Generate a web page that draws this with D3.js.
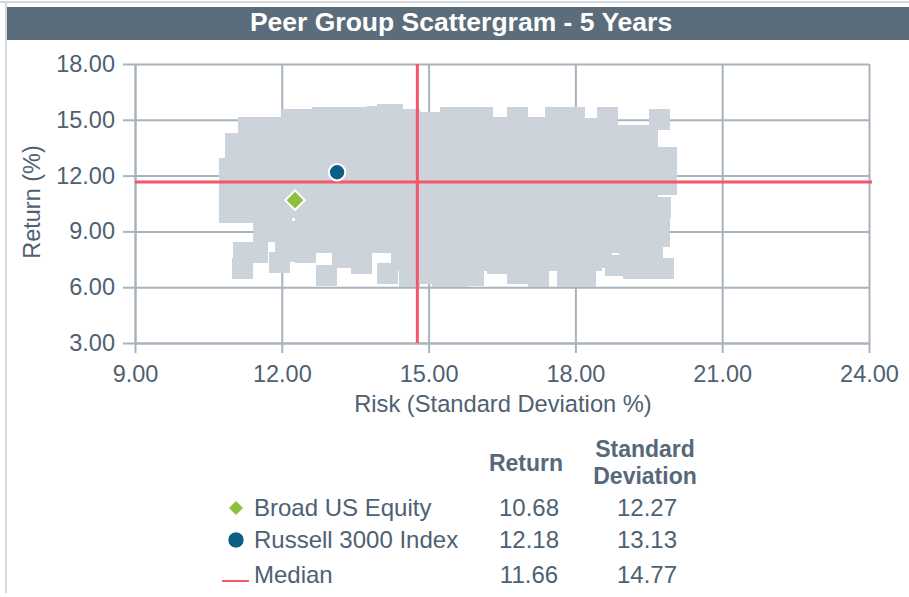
<!DOCTYPE html>
<html>
<head>
<meta charset="utf-8">
<script src="https://cdn.jsdelivr.net/npm/d3@7"></script>
<style>
  body { margin: 0; background: #fff; }
  svg { font-family: "Liberation Sans", Arial, sans-serif; }
</style>
</head>
<body>
<svg width="909" height="597"></svg>
<script>
var chartTitle = "Peer Group Scattergram - 5 Years";
var xTicks = [9, 12, 15, 18, 21, 24];
var yTicks = [3, 6, 9, 12, 15, 18];

// peer universe, [risk, return]
var peerFunds = [
  [11.31,14.56],[11.72,14.56],[11.95,14.56],[12.21,15.04],[12.43,15.04],[12.84,15.15],[13.23,15.15],[13.62,15.15],
  [13.95,15.17],[14.15,15.26],[14.27,15.26],[14.60,15.00],[14.93,14.83],[15.10,14.85],[15.44,15.10],[15.81,15.10],
  [16.11,15.10],[16.46,14.60],[16.81,15.10],[17.22,14.60],[17.60,15.10],[17.99,15.10],[18.30,14.55],[18.65,15.10],
  [19.71,15.04],
  [11.33,14.18],[11.72,14.18],[12.11,14.18],[12.49,14.18],[12.88,14.18],[13.27,14.18],[13.66,14.18],[14.05,14.18],
  [14.44,14.18],[14.82,14.18],[15.21,14.18],[15.60,14.18],[15.99,14.18],[16.38,14.18],[16.77,14.18],[17.15,14.18],
  [17.54,14.18],[17.93,14.18],[18.32,14.18],[18.71,14.18],[19.10,14.18],[19.48,14.18],
  [11.06,13.75],
  [11.06,13.22],[11.33,13.22],[11.72,13.22],[12.11,13.22],[12.49,13.22],[12.88,13.22],[13.27,13.22],[13.66,13.22],
  [14.05,13.22],[14.44,13.22],[14.82,13.22],[15.21,13.22],[15.60,13.22],[15.99,13.22],[16.38,13.22],[16.77,13.22],
  [17.15,13.22],[17.54,13.22],[17.93,13.22],[18.32,13.22],[18.71,13.22],[19.10,13.22],[19.48,13.22],[19.87,13.00],
  [10.94,12.40],[11.33,12.25],[11.72,12.25],[12.11,12.25],[12.49,12.25],[12.88,12.25],[13.27,12.25],[13.66,12.25],
  [14.05,12.25],[14.44,12.25],[14.82,12.25],[15.21,12.25],[15.60,12.25],[15.99,12.25],[16.38,12.25],[16.77,12.25],
  [17.15,12.25],[17.54,12.25],[17.93,12.25],[18.32,12.25],[18.71,12.25],[19.10,12.25],[19.48,12.25],[19.87,12.25],
  [10.94,11.28],[11.33,11.28],[11.72,11.28],[12.11,11.28],[12.49,11.28],[12.88,11.28],[13.27,11.28],[13.66,11.28],
  [14.05,11.28],[14.44,11.28],[14.82,11.28],[15.21,11.28],[15.60,11.28],[15.99,11.28],[16.38,11.28],[16.77,11.28],
  [17.15,11.28],[17.54,11.28],[17.93,11.28],[18.32,11.28],[18.71,11.28],[19.10,11.28],[19.48,11.28],[19.87,11.50],
  [10.94,10.31],[11.33,10.31],[10.94,9.99],[11.33,9.99],
  [11.72,10.31],[12.11,10.31],[12.49,10.31],[12.88,10.31],[13.27,10.31],[13.66,10.31],
  [14.05,10.31],[14.44,10.31],[14.82,10.31],[15.21,10.31],[15.60,10.31],[15.99,10.31],[16.38,10.31],[16.77,10.31],
  [17.15,10.31],[17.54,10.31],[17.93,10.31],[18.32,10.31],[18.71,10.31],[19.10,10.31],[19.48,10.31],[19.73,10.31],
  [11.62,9.34],[12.00,9.34],[11.62,8.97],[12.00,8.97],[12.30,8.97],[12.49,9.34],[12.88,9.34],[13.27,9.34],
  [13.66,9.34],[14.05,9.34],[14.44,9.34],[14.82,9.34],[15.21,9.34],[15.60,9.34],[15.99,9.34],[16.38,9.34],
  [16.77,9.34],[17.15,9.34],[17.54,9.34],[17.93,9.34],[18.32,9.34],[18.71,9.34],[19.10,9.34],[19.48,9.34],
  [19.71,9.60],[19.71,8.70],
  [12.49,8.38],[12.88,8.38],[13.27,8.38],[13.66,8.38],[14.05,8.38],[14.44,8.38],[14.82,8.38],[15.21,8.38],
  [15.60,8.38],[15.99,8.38],[16.38,8.38],[16.77,8.38],[17.15,8.38],[17.54,8.38],[17.93,8.38],[18.32,8.38],
  [18.71,8.38],[19.10,8.38],[19.48,8.38],[19.57,8.10],[12.49,7.89],
  [14.44,7.41],[14.82,7.41],[15.21,7.41],[15.60,7.41],[15.99,7.41],[16.38,7.41],[16.77,7.41],[17.15,7.41],
  [17.54,7.41],[17.93,7.41],[18.32,7.41],[19.10,7.41],[19.48,7.41],
  [12.92,6.65],[13.25,7.60],[13.62,7.30],[14.17,6.76],[14.60,6.55],[14.93,6.76],[15.29,6.55],[15.60,6.55],
  [15.91,6.65],[16.40,7.30],[16.81,6.71],[17.24,6.55],[17.83,6.60],[18.20,6.60],[18.54,7.62],[18.81,7.19],
  [19.18,7.03],[19.40,7.03],[19.81,7.03],
  [11.22,7.84],[11.50,7.84],[11.19,6.98],[12.07,7.90],[11.96,7.35]
];

var seriesNames = ["Broad US Equity", "Russell 3000 Index", "Median"];
var seriesReturn = [10.68, 12.18, 11.66];
var seriesStdDev = [12.27, 13.13, 14.77];

var textColor = "#4e6172",
    gridColor = "#a9b3be",
    medianColor = "#f4566a";

var svg = d3.select("svg"),
    margin = {top: 64, right: 40, bottom: 254, left: 135},
    width = +svg.attr("width") - margin.left - margin.right,
    height = +svg.attr("height") - margin.top - margin.bottom;

// panel frame + title bar
svg.append("rect").attr("x", 0).attr("y", 1).attr("width", 909).attr("height", 2).attr("fill", "#d3d8de");
svg.append("rect").attr("x", 5).attr("y", 1).attr("width", 2).attr("height", 592).attr("fill", "#d3d8de");
svg.append("rect").attr("x", 7).attr("y", 7).attr("width", 902).attr("height", 33).attr("fill", "#5b6c7b");
svg.append("text")
    .attr("x", 461).attr("y", 31)
    .attr("text-anchor", "middle")
    .attr("fill", "#fff")
    .attr("font-size", 26.5)
    .attr("font-weight", "bold")
    .text(chartTitle);

var x = d3.scaleLinear().domain([9, 24]).range([0, width]),
    y = d3.scaleLinear().domain([3, 18]).range([height, 0]);

var g = svg.append("g")
    .attr("transform", "translate(" + margin.left + "," + margin.top + ")");

// grid
g.append("g")
    .attr("class", "grid")
    .call(d3.axisLeft(y).tickValues(yTicks).tickSize(-width).tickFormat(""))
    .call(function(s) { s.select(".domain").remove(); });
g.append("g")
    .attr("class", "grid")
    .attr("transform", "translate(0," + height + ")")
    .call(d3.axisBottom(x).tickValues(xTicks).tickSize(-height).tickFormat(""))
    .call(function(s) { s.select(".domain").remove(); });
g.selectAll(".grid line").attr("stroke", gridColor).attr("stroke-width", 2);

// peer cloud
var sq = 21;
g.selectAll(".peer")
    .data(peerFunds)
    .enter().append("rect")
    .attr("class", "peer")
    .attr("x", function(d) { return x(d[0]) - sq / 2; })
    .attr("y", function(d) { return y(d[1]) - sq / 2; })
    .attr("width", sq)
    .attr("height", sq)
    .attr("fill", "#cdd3db")
    .attr("shape-rendering", "crispEdges");

// axes
var fmt = d3.format(".2f");
var xAxis = g.append("g")
    .attr("transform", "translate(0," + height + ")")
    .call(d3.axisBottom(x).tickValues(xTicks).tickSize(10).tickSizeOuter(0).tickPadding(12).tickFormat(fmt));
var yAxis = g.append("g")
    .call(d3.axisLeft(y).tickValues(yTicks).tickSize(12).tickSizeOuter(0).tickPadding(8).tickFormat(fmt));
[xAxis, yAxis].forEach(function(a) {
    a.select(".domain").attr("stroke", gridColor).attr("stroke-width", 2);
    a.selectAll("line").attr("stroke", gridColor).attr("stroke-width", 2);
    a.selectAll("text").attr("fill", textColor).attr("font-size", 23.5)
        .attr("font-family", "Liberation Sans, Arial, sans-serif");
});

svg.append("text")
    .attr("x", 503).attr("y", 412)
    .attr("text-anchor", "middle")
    .attr("fill", textColor).attr("font-size", 23.7)
    .text("Risk (Standard Deviation %)");
svg.append("text")
    .attr("transform", "translate(40,202) rotate(-90)")
    .attr("text-anchor", "middle")
    .attr("fill", textColor).attr("font-size", 23.5)
    .text("Return (%)");

// median cross
g.append("line")
    .attr("x1", x(seriesStdDev[2])).attr("x2", x(seriesStdDev[2]))
    .attr("y1", 0).attr("y2", height)
    .attr("stroke", medianColor).attr("stroke-width", 3);
g.append("line")
    .attr("x1", 0).attr("x2", width + 3)
    .attr("y1", y(seriesReturn[2])).attr("y2", y(seriesReturn[2]))
    .attr("stroke", medianColor).attr("stroke-width", 3);

// fund + index markers
g.append("path")
    .attr("d", d3.symbol(d3.symbolSquare, 190)())
    .attr("transform", "translate(" + x(seriesStdDev[0]) + "," + y(seriesReturn[0]) + ") rotate(45)")
    .attr("fill", "#8dc03f").attr("stroke", "#fff").attr("stroke-width", 2);
g.append("path")
    .attr("d", d3.symbol(d3.symbolCircle, 210)())
    .attr("transform", "translate(" + x(seriesStdDev[1]) + "," + y(seriesReturn[1]) + ")")
    .attr("fill", "#0b5e84").attr("stroke", "#fff").attr("stroke-width", 2);

// legend table
var legend = svg.append("g");
legend.append("text").attr("x", 526).attr("y", 471).attr("text-anchor", "middle")
    .attr("font-weight", "bold").attr("font-size", 23).attr("fill", "#56687a").text("Return");
legend.append("text").attr("x", 645).attr("y", 457).attr("text-anchor", "middle")
    .attr("font-weight", "bold").attr("font-size", 23).attr("fill", "#56687a").text("Standard");
legend.append("text").attr("x", 645).attr("y", 484).attr("text-anchor", "middle")
    .attr("font-weight", "bold").attr("font-size", 23).attr("fill", "#56687a").text("Deviation");

var rowBase = [516, 548, 583];
seriesNames.forEach(function(name, i) {
    legend.append("text").attr("x", 254).attr("y", rowBase[i])
        .attr("font-size", 24).attr("fill", textColor).text(name);
    legend.append("text").attr("x", 529).attr("y", rowBase[i]).attr("text-anchor", "middle")
        .attr("font-size", 24).attr("fill", textColor).text(fmt(seriesReturn[i]));
    legend.append("text").attr("x", 647).attr("y", rowBase[i]).attr("text-anchor", "middle")
        .attr("font-size", 24).attr("fill", textColor).text(fmt(seriesStdDev[i]));
});
legend.append("path")
    .attr("d", d3.symbol(d3.symbolSquare, 120)())
    .attr("transform", "translate(236,508) rotate(45)")
    .attr("fill", "#8dc03f").attr("stroke", "#fff").attr("stroke-width", 1);
legend.append("path")
    .attr("d", d3.symbol(d3.symbolCircle, 210)())
    .attr("transform", "translate(236,540)")
    .attr("fill", "#0b5e84").attr("stroke", "#fff").attr("stroke-width", 1);
legend.append("line")
    .attr("x1", 222).attr("x2", 249).attr("y1", 581).attr("y2", 581)
    .attr("stroke", medianColor).attr("stroke-width", 2);
</script>
</body>
</html>
